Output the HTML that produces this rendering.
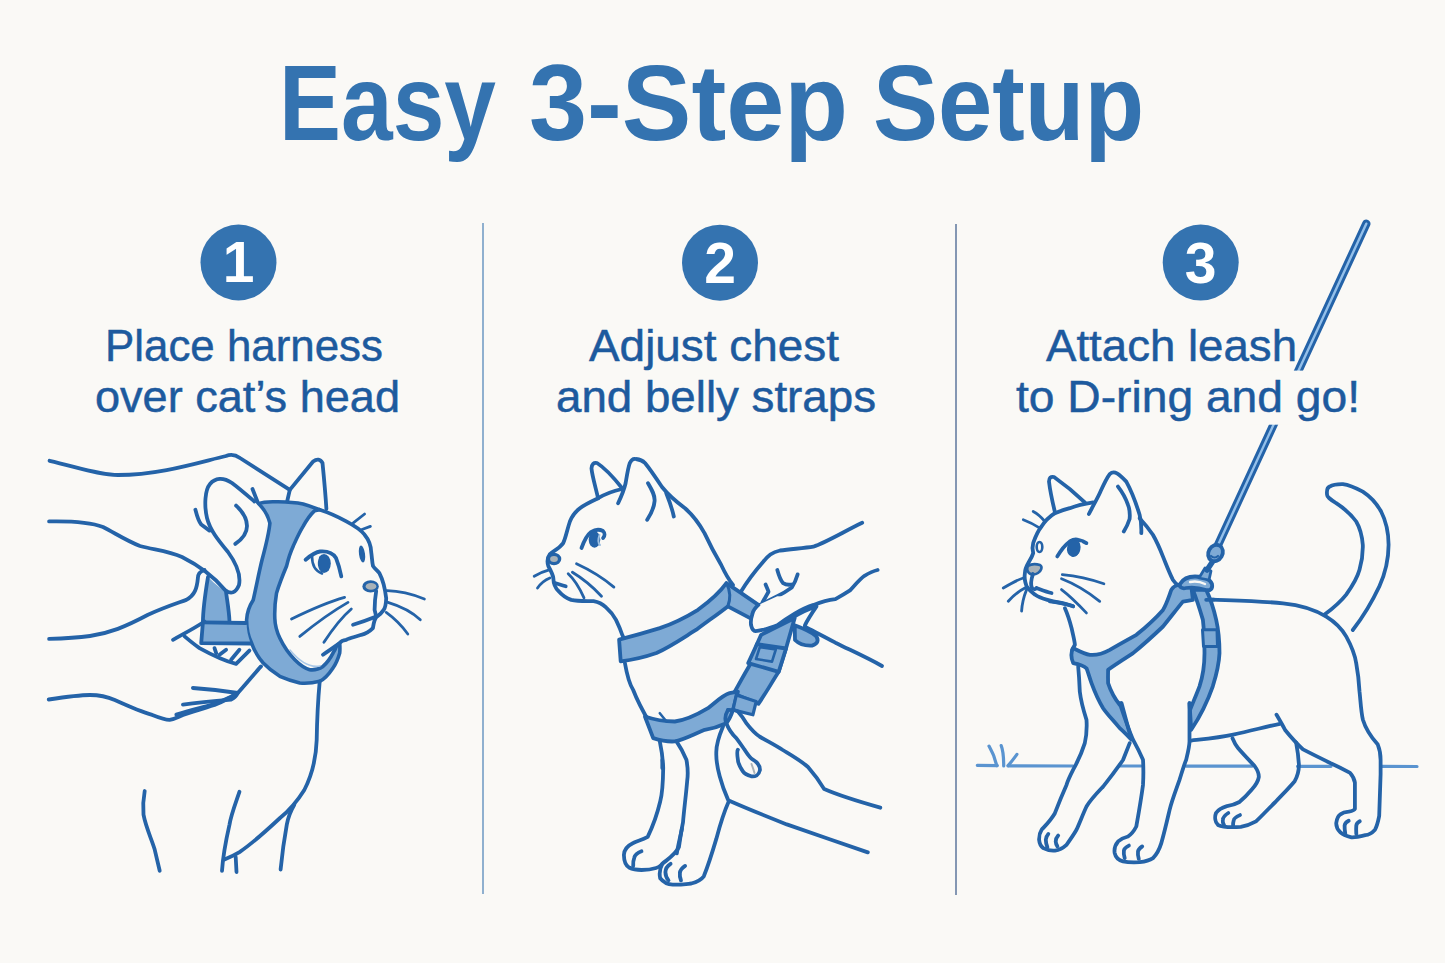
<!DOCTYPE html>
<html><head><meta charset="utf-8">
<style>
html,body{margin:0;padding:0;width:1445px;height:963px;overflow:hidden;background:#faf9f6;}
svg{position:absolute;left:0;top:0;}
</style></head>
<body>
<svg width="1445" height="963" viewBox="0 0 1445 963">
<!-- title -->
<g font-family="Liberation Sans" font-weight="bold" font-size="107" fill="#3473b0">
<text x="279" y="139.5" textLength="217" lengthAdjust="spacingAndGlyphs">Easy</text>
<text x="529" y="139.5" textLength="319" lengthAdjust="spacingAndGlyphs">3-Step</text>
<text x="873" y="139.5" textLength="271" lengthAdjust="spacingAndGlyphs">Setup</text>
</g>
<!-- dividers -->
<line x1="483" y1="223" x2="483" y2="894" stroke="#8fb0cf" stroke-width="2"/>
<line x1="956" y1="224" x2="956" y2="895" stroke="#8497b3" stroke-width="2"/>
<!-- circles -->
<g fill="#3473b0">
<circle cx="238.5" cy="262.5" r="38"/>
<circle cx="720" cy="262.7" r="38"/>
<circle cx="1200.7" cy="262.6" r="38"/>
</g>
<g font-family="Liberation Sans" font-weight="bold" font-size="57" fill="#ffffff" text-anchor="middle">
<text x="238.5" y="281.5">1</text>
<text x="720" y="282.5">2</text>
<text x="1200.7" y="282.5">3</text>
</g>
<!--P1-->
<g id="p1" fill="none" stroke="#2463a8" stroke-width="3.8" stroke-linecap="round" stroke-linejoin="round">
<!-- harness U strap fill -->
<path fill="#7eaad5" stroke-width="3.6" d="M258.7,503.7 C265,501 272,501.8 278.2,501.8 C290,502 298,503 303.1,504 C310,506 315,508 319.7,509.8 L314.7,510.6 C310,515 306,521 303.1,526.4 C299,533 296,540 293.1,546.4 C290,553 288,560 286.5,566.3 C282,577 279,585 276.5,593.2 C275,602 274.5,610 274.8,618.2 C275,626 277,632 279.8,638.1 C284,647 289,654 294.8,659.7 C299,664 304,668 309.7,669.7 C315,670.5 319,669 323,666.4 C328,662 331,657 333,653.1 C335,650 336,648 336.3,646.4 L339.7,643.1 C340,647 340,650 339.7,653.1 C338,659 336,664 333,668 C329,674 325,679 319.7,681.3 C313,683 306,683.5 299.8,683 C292,681 286,679 279.8,676.3 C273,672 268,668 263.2,663 C258,657 254,650 251.6,643.1 C248,636 246.5,628 246.6,619.8 C247,612 250,605 253.2,600 C256,588 259,572 262,560 C266,545 269,533 269.9,523.1 C268,515 263,508 258.7,503.7 Z"/>
<path d="M290,650 C300,662 310,668 320,666" stroke="#a9c8e8" stroke-width="1.5"/>
<!-- back strap + horizontal strap fill -->
<path fill="#7eaad5" stroke="none" d="M208,577 C205,595 203,610 202.9,622.3 L201.2,643.1 L250.7,643.5 C248,636 246.6,630 246.6,622.5 L229.5,621.5 C229,605 227,595 226,591.6 C218,587 212,581 208,577 Z"/>
<path d="M208,577 C205,595 203,610 202.9,622.3 L201.2,643.1 L250.7,643.5"/>
<path d="M226,591.6 C227,600 229,610 229.5,621.5"/>
<path d="M202.9,622.3 L246,623"/>
<!-- top arm -->
<path d="M49.6,460.8 C80,468 100,475 118,475 C160,475 200,462 226,456 Q233,453 240,458 L289.8,489.9"/>
<!-- far ear -->
<path d="M287.3,500.7 L289.8,489.9 L313.1,461.5 Q319,457 322.5,463 C324,478 325.5,494 326.4,509"/>
<!-- second arm & finger/ear loop -->
<path d="M49.1,521.4 C70,521 90,522 103,527 C115,533 125,540 140,546 C155,550 168,551 182,557 C200,566 215,578 225,590 Q234,597 239,585 C241,575 236,563 228,552 C218,540 210,530 207,518 C204,505 205,490 210,484 C215,478 223,477 232,483 C240,489 248,496 254.4,501.5"/>
<path d="M236.1,505.6 C242,511 247,518 247,526 C247,534 241,540 235.3,543.9"/>
<path d="M195.4,509.8 C197,516 199,522 201.2,524.5 L209.5,530.6"/>
<path d="M252.5,489 L257.7,502.3"/>
<!-- arm 3 -->
<path d="M49.1,638.9 C62,638.5 75,638 90,636 C110,633 125,627 148,614.8 C165,607 178,603 186.3,599.9 C195,595 197,588 197.9,578 C198,573 201,571 204.5,570"/>
<path d="M173,639.8 C185,633 195,628 204.5,621.5"/>
<path d="M184.6,636.4 C190,641 195,645 199.5,648.1 C212,655 225,661 236.1,663.9 L249.4,650.6"/>
<path d="M214.5,648.1 L216.2,653.1 M219.5,654.7 L226.1,649.7 M231.1,659.7 L239.4,649.7"/>
<!-- lower hand fingers -->
<path d="M192.9,688 C208,689 225,691 237.8,693 C245,685 255,673 261,666.4"/>
<path d="M182.9,704.6 C195,703 215,701 231.1,699.6 Q236,697 237.8,693"/>
<path d="M176.3,714.6 C190,710 200,708 206.2,706.3 C215,704 222,701 229.5,697.5"/>
<!-- arm 4 -->
<path d="M48.7,699.5 C65,697 80,695 89.9,695 C100,695 108,697 114.8,700 C128,706 142,712 152.2,714.9 C160,718 165,720 169.6,719.9 C175,719 178,717 183,715 C195,711 205,708 214.5,705 C222,702 230,698 235,694"/>
<!-- head outline -->
<path d="M319.7,509.8 C330,513 340,518 346.3,521.4 C355,526 361,530 364.6,534.7 C369,540 371,546 371.2,552 C372,557 372,562 373,566 C375,569 378,571 379.5,573.3 C383,580 385,588 386.2,598.2 C386,604 385,608 383.7,609.9 C381,614 378,616 376.2,617.3 C374,620 373.5,625 372.9,628.1 C369,632 365,634 361.3,634.8 C355,637 350,638 346.3,639.8 C343,640 341,641 339.7,643.1 C333,648 328,651 323,654.7"/>
<!-- far eye mark -->
<ellipse cx="362" cy="554" rx="3" ry="8.5" fill="#2463a8" stroke="none" transform="rotate(-8 362 554)"/>
<!-- eye -->
<path d="M305.6,559.7 C310,556 315,552 320,551.5 C327,551 333,553 336,558 C338,563 340,570 341.3,576.3"/>
<ellipse cx="324" cy="563.5" rx="6.8" ry="9.5" fill="#2463a8" stroke="none"/>
<path d="M318,557 C316,563 317,569 320,572" stroke="#faf9f6" stroke-width="2"/>
<path d="M312,556 C312,564 315,571 322,573.5" stroke-width="2.6"/>
<!-- nose -->
<ellipse cx="370.6" cy="586.4" rx="8.2" ry="6.2" fill="#2463a8" stroke="none"/>
<ellipse cx="371" cy="586.4" rx="5.4" ry="3.3" fill="#a9b2b8" stroke="none"/>
<path d="M376.2,591 C375,598 374.6,604 374.6,609.9 L376.2,616.5"/>
<path d="M353,624.8 C362,622 370,619 376.2,616.5"/>
<!-- whiskers -->
<g stroke-width="2.8">
<path d="M291.5,619 C310,610 328,602 344.6,597.4"/>
<path d="M299.8,636.4 C315,624 333,611 348,602.4"/>
<path d="M323.9,642.3 C332,630 342,617 351.3,609"/>
<path d="M387,590.7 C400,591 412,594 424.4,599"/>
<path d="M387.9,602.4 C400,606 412,612 420.3,619.8"/>
<path d="M386.2,612.4 C394,618 402,626 407.8,634"/>
<path d="M353,523.1 L364.6,514"/>
<path d="M361.3,529.7 L370.4,526.4"/>
</g>
<!-- neck / body -->
<path d="M319.7,681.3 C318,700 317,720 316.7,740 C316,760 312,775 304.3,790 C298,800 290,810 280,818 C265,832 250,845 239.5,852.1 C233,856 228,858 224.5,859.5"/>
<path d="M144.7,791 C143,800 143,808 143.5,814.7 C146,828 152,840 154.7,849.6 L159.7,870.8"/>
<path d="M239.5,791.7 C235,805 231,815 229.5,824.6 C226,840 223,855 222,870.8"/>
<path d="M294.3,804.7 C290,812 288,818 286.8,824.6 C284,840 282,855 280.6,869.5"/>
<path d="M235.7,857 L236.5,872"/>
</g>
<!--/P1-->
<!--P2-->
<g id="p2" fill="none" stroke="#2463a8" stroke-width="3.8" stroke-linecap="round" stroke-linejoin="round">
<!-- far ear + head -->
<path d="M598.1,498.2 C595,485 592,475 591.5,468.3 Q592,462 597,463 C605,468 614,478 622.2,488.2"/>
<path d="M598.1,498.2 C605,494 613,491 622,489"/>
<!-- near ear + back of head -->
<path d="M618.1,503.2 C622,495 624,490 625.6,483.2 C627,475 628,468 629.7,463.3 Q632,458 636,459 C640,459.5 643,461 645,463 C650,469 656,478 662,487 C670,497 678,503 685,508.2 C694,516 700,525 704.5,533.1 C710,545 716,556 721.1,564.7 C725,573 729,580 733,585"/>
<path d="M648,483.2 C652,490 655,495 654.6,501 C654,508 651,514 647.2,519.8"/>
<path d="M666.3,493.2 C669,500 672,508 673.8,516.5"/>
<!-- face outline -->
<path d="M598.1,498.2 C590,502 584,505 579.9,508.2 C575,512 572,516 569.9,521.5 C567,530 566,537 563.2,543.1 C559,549 553,551 550,554 C547,558 547,562 548.3,566 C551,571 553,575 553.3,578 C553.5,584 555,588 558.7,591.2 C562,595 566,598 571.2,599.9 C578,601.5 586,601 593.6,601.1 C599,602 603,604.5 606,607.4 C610,611 613.5,615 616,619.8 C619,626 621,631 622.2,634.8 L624.2,639"/>
<ellipse cx="554" cy="559" rx="5.6" ry="4.6" fill="#a9b2b8" stroke-width="3.4"/>
<path d="M554.9,583 C558,584 562,585 565.7,586.3"/>
<!-- eye -->
<path d="M581.5,548 C584,541 587,535 591,532 C595,529.5 600,529.5 603,531 C605,533 605,536 603.1,538.1"/>
<ellipse cx="594.5" cy="539.5" rx="5.8" ry="8.3" fill="#2463a8" stroke="none"/>
<path d="M599.5,535 C598,539 598,543 600,545" stroke-width="2" stroke="#9fc0e0"/>
<!-- whiskers -->
<g stroke-width="2.8">
<path d="M534.2,576.3 C540,573 545,571 549.9,569.7"/>
<path d="M537.5,588 C541,583 545,580 549.9,578"/>
<path d="M576.5,563.8 C590,570 603,578 613.9,587.1"/>
<path d="M572.4,572.2 C582,578 593,587 601.5,596.2"/>
<path d="M568.2,573.8 C575,580 580,589 584,597.9"/>
</g>
<!-- body outline left -->

<path d="M590,600.7"/>
<path d="M624.9,663 C627,675 630,685 633.2,690 C637,700 641,708 649.9,723.2"/>
<!-- collar strap -->
<path fill="#7eaad5" d="M619.1,639.7 C633,636 647,632 659.8,628.1 C675,623 688,616 698,609.8 C710,601 720,592 726.4,583.1 L739.4,591.8 L758.4,604.9 L752.5,619.4 L727.8,606.4 C718,614 708,621 696.4,629.7 C683,638 670,647 656.5,653 C645,657 632,660 620.7,661.3 Z"/>
<path d="M726.4,583.1 C730,590 731,598 727.8,606.4" stroke-width="3"/>
<!-- vertical belly strap -->
<path fill="#7eaad5" d="M761,635 L794.7,618 L786,648.5 L778.7,671.8 C772,682 766,693 758.4,703.8 L733.6,693.6 C739,684 745,673 751,663 L756.9,644.2 Z"/>
<path fill="#7eaad5" d="M748.2,663.1 L756.9,644.2 L786,648.5 L778.7,671.8 Z"/>
<path fill="#7eaad5" stroke-width="2.6" d="M759.8,647.1 L775.8,649.5 L772,661.6 L756,659 Z"/>
<path fill="#7eaad5" d="M794.7,625.3 C802,628 810,631 816,636 C819,640 818,644 812,645.6 C805,646 799,644 795,640 Z"/>
<!-- belly band -->
<path fill="#7eaad5" d="M644.9,716.5 C655,720 665,721.5 674.8,721.5 C688,720 700,713 708,708.2 C716,702 723,695 729.6,693.2 L737.9,691.6 L733,709.9 C731,716 729,720 726.3,723.2 C718,727 710,729 704.7,729.8 C692,735 683,740 674.8,741.4 C666,742 659,740 653.2,738.1 Z"/>
<path fill="#7eaad5" d="M736.3,694.9 L756.2,701.5 L752.9,714.8 L733,709.9 Z" stroke-width="3.2"/>
<path d="M659.8,713.2 L666.5,721.5" stroke-width="2.6"/>
<!-- upper hand -->
<path d="M740.9,591.8 C748,580 756,570 763,562 C768,556 772,552 780,550.5 C792,549 805,548 813.4,546.7 C825,543 845,531 862.2,522.8"/>
<path d="M765.6,584.5 C767,588 768,590 768.5,591.8 L762.7,602"/>
<path d="M777.3,570 C779,576 781,581 783.1,583.1 C786,585 789,585 791.8,584.5"/>
<path d="M797.6,574.4 C796,580 794,584 791.8,587.5 C787,591 782,594 777.3,596.2 L759.8,604.9"/>
<!-- thumb -->
<path fill="#faf9f6" stroke="none" d="M758.4,604.9 C755,608 753,611 752.5,613.6 C751,618 750.5,622 751.1,625.3 C752,629 753,631 755.4,631.1 C758,631 761,630 764.2,629.6 C769,628 773,627 777.3,625.3 C783,621 789,617 794.7,613.6 C801,610 807,607 813.6,604.9 L800,597 L777.3,596.2 Z"/>
<path d="M758.4,604.9 C755,608 753,611 752.5,613.6 C751,618 750.5,622 751.1,625.3 C752,629 753,631 755.4,631.1 C758,631 761,630 764.2,629.6 C769,628 773,627 777.3,625.3 C783,621 789,617 794.7,613.6 C801,610 807,607 813.6,604.9 C821,602 828,600 835.4,599.1 C841,596 846,593 850,590.4 C855,585 860,579 864.5,575.8 C869,573 873,571 877.6,570"/>
<path d="M791.8,618 C800,613 808,609 816.5,606.4 C812,613 808,619 804.9,625.3"/>
<path d="M804.9,626.7 C815,632 825,637 835.4,642.7 C850,650 866,657 882,666"/>
<!-- lower hand -->
<path d="M728,709.9 C733,710 736,710 737.9,711.5 C741,715 744,719 746.3,723.2 C750,728 754,733 759.5,736.5 C767,741 775,745 782.8,750 C791,755 800,760 808,767 C815,775 820,782 824.2,789.1 C840,796 860,802 880.3,807.7"/>
<path d="M728,709.9 C725,715 725,720 726.3,723.2 C729,730 733,735 736.3,738.1 C740,743 742,746 744.6,749.7 C748,755 750,758 752.9,759.7 C757,762 760,765 760,770 C759,775 755,777 751.2,776.3 C747,775 744,773 742.9,771.4 C740,767 738,763 737.9,759.7 C737,754 737,751 737.9,749.7"/>
<path d="M751.5,764 C753,768 754,771 754.5,773" stroke="#aab3b8" stroke-width="2"/>
<path d="M723,726.5 C719,736 716,745 716.3,753.1 C716,762 718,770 719.7,776.3 C722,785 725,793 728,799.6 L728.7,800.5 C748,809 768,817 786.8,824.4 C815,834 840,843 867.8,852.4"/>
<!-- legs -->
<path d="M659.8,741.4 C662,752 663,760 663.2,768 C663,785 662,795 660.2,801.5 C657,815 652,828 647.7,836.8 C642,840 637,841 633.2,843 C627,846 624,850 623.9,855 C624,861 625,865 629,867.5 C634,870 638,870 641.5,870 C648,870 653,869 656.1,868 C660,867 661,865 662.3,863.8"/>
<path d="M641.5,851.3 C637,853 635,855 634.3,857.6 C633,861 633,863 633.2,865.9"/>
<path d="M676.5,741.4 C681,748 684,754 686.4,759.7 C688,768 688,775 687.2,780.8 C686,795 684,810 683,822.3 C681,832 680,840 678.9,847.2 C675,855 668,859 662.3,863.8 C660,868 659,873 660.2,878.3 C664,883 668,884.5 672.7,884.6 C680,884.8 686,884 691.3,883.5 C697,882 701,880 703.8,876.3 C708,866 713,850 716.3,838.9 C720,825 724,812 728.7,801.5"/>
<path d="M682,828.5 C680,838 678,846 676.8,853.4"/>
<path d="M670.6,863.8 C667,866 665.5,869 665.4,872.1 C665.5,876 666.5,878 668.5,880.4"/>
<path d="M685.1,865.9 C682,868 680,870 679.9,873.1 C679.5,876 680,878 681,880.4"/>
<path d="M662.3,760 L662.3,768"/>
</g>
<!--/P2-->
<!--P3-->
<g id="p3" fill="none" stroke="#2463a8" stroke-width="3.8" stroke-linecap="round" stroke-linejoin="round">
<!-- ground -->
<g stroke="#5a94d0" stroke-width="3.2">
<path d="M977.3,765.3 L997.3,765.6"/>
<path d="M989,746.1 C991,750 993,754 993.8,756 C995,760 996,763 996.8,765.6"/>
<path d="M1001.2,745.6 C1003,750 1003.7,755 1003.7,766"/>
<path d="M1016.9,754.4 C1015,757 1013,760 1008.1,765.6"/>
<path d="M1008.1,765.9 L1073,766 M1120,766 L1141,766 M1186,766.1 L1252,766.2 M1297.5,766.3 L1331,766.3 M1381,766.4 L1417,766.5"/>
</g>
<!-- leash -->
<path d="M1366.3,223.7 L1218,545" stroke-width="8.4"/>
<path d="M1366.3,223.7 L1218,545" stroke="#94c0ea" stroke-width="2.4"/>
<rect x="1250" y="370.6" width="70" height="54.1" fill="#faf9f6" stroke="none"/>
<!-- far ear + head -->
<path d="M1054.8,511.5 C1052,500 1050,490 1049,481.6 Q1049,476 1054,477 C1064,484 1075,493 1084.8,502.4"/>
<path d="M1054.8,513.2 C1060,511 1065,509.5 1069.8,508.2 C1078,505 1086,503.5 1093.1,502.4"/>
<!-- near ear -->
<path d="M1088.9,514 C1093,506 1097,499 1099.7,493.2 C1103,486 1106,479 1109.7,474.1 Q1113,471 1117,473.3 C1120,475 1123,478 1126.3,481.6 C1132,492 1136,503 1139.6,514.8 C1141,520 1141.5,527 1141.3,533.1"/>
<path d="M1118,486.6 C1123,493 1126,499 1128,504.9 C1130,510 1130,515 1129.6,519 C1128,524 1126,528 1123.8,531.5"/>
<!-- back of head -->
<path d="M1139.6,518.2 C1145,524 1149,529 1152.9,534.8 C1157,542 1160,549 1162.9,556.4 C1166,564 1169,572 1172.8,579.7 C1175,583 1177,585 1179.5,586.3"/>
<!-- face -->
<path d="M1054.8,513.2 C1049,517 1045,521 1041.5,526.5 C1037,532 1035,538 1033.2,543.1 C1032,547 1032.5,550 1033.2,553.1 C1032,557 1030,560 1028.3,563 C1026,567 1025,570 1024.9,573 C1024,578 1025,582 1026.6,586.3 C1029,590 1031,592 1034.9,594.6 C1038,597 1042,598.5 1046.5,599.6 C1051,601 1056,602 1061.5,602.9 C1066,604 1070,605 1073.1,606.3"/>
<ellipse cx="1039.5" cy="547" rx="2.8" ry="5" stroke-width="2.6"/>
<path d="M1028,566 C1031,564 1035,563.5 1040,565 C1043,567 1041,571 1038,573 C1035,575 1031,575 1029,573 C1027,571 1027,568 1028,566 Z" fill="#a9b2b8" stroke-width="2.6"/>
<path d="M1033,574 C1031,580 1030.5,585 1032,588 C1034,590 1036,589 1036.6,588 M1036.6,588 C1042,590 1047,592 1051.5,593"/>
<path d="M1049.9,601.3 C1058,602 1066,604 1073.1,606.3"/>
<!-- eye -->
<path d="M1057.3,556.4 C1061,550 1065,545 1069.8,541.4 C1073,539.5 1076,539 1078.1,539.8 C1081,540.5 1084,541.5 1086.4,543.1"/>
<ellipse cx="1074" cy="548.5" rx="7" ry="8.5" fill="#2463a8" stroke="none" transform="rotate(15 1074 548.5)"/>
<path d="M1081,543 C1082,548 1081,553 1078,556" stroke="#faf9f6" stroke-width="1.6"/>
<!-- whiskers -->
<g stroke-width="2.8">
<path d="M1023.3,519.8 C1029,522 1035,525 1039.9,528.1"/>
<path d="M1033.2,511.5 C1038,514 1042,518 1044.9,521.5"/>
<path d="M1003.3,588 C1010,584 1017,580 1023.3,578"/>
<path d="M1008.3,601.3 C1013,596 1019,591 1024.9,588"/>
<path d="M1021.6,611.2 C1022,604 1024,596 1026.6,589.6"/>
<path d="M1062.3,574.7 C1076,576 1090,579 1103.9,583.8"/>
<path d="M1061.5,578.8 C1075,584 1088,592 1099.7,601.3"/>
<path d="M1061.5,589.6 C1070,596 1078,604 1086.4,612.9"/>
</g>
<!-- neck front -->
<path d="M1064.9,608.2 C1068,615 1070,622 1071.6,628.2 C1073,635 1074.5,640 1074.9,644.8 L1072,650"/>
<!-- tail -->
<path d="M1324.6,614.6 C1336,606 1342,600 1346.2,594.6 C1353,585 1357.5,577 1359.5,569.7 C1362,561 1363,552 1362.8,544.8 C1362,535 1360,528 1356.2,521.5 C1350,513 1342,507 1336.2,503.2 C1330,499 1327,497 1327.1,494.9 C1326.5,490 1327,487.5 1329.6,486.6 C1333,484.5 1338,484 1342.9,484.1 C1350,485 1356,488 1362.8,491.6 C1371,497 1377,504 1381.1,511.5 C1386,521 1388.5,533 1388.6,544.8 C1388.5,560 1385,574 1379.4,586.3 C1372,602 1363,617 1352.8,630"/>
<!-- back -->
<path d="M1211.6,599.6 C1235,600.5 1260,601 1283.1,603.3 C1300,605 1314,609 1326.3,616.6 C1335,622 1342,629 1346.3,636.6 C1352,647 1355,655 1356.2,663.2 C1358,673 1359,682 1359.5,691.4 C1360.5,700 1361,712 1362.9,719.7 C1366,730 1372,738 1377.8,744.6 C1380,750 1380.6,754 1380.6,760 L1380.6,774.3 C1380,790 1379.5,805 1379.2,815.8 C1378,822 1377,826 1375,829.7 C1372,833 1368,835 1365.3,835.2 C1360,836.5 1355,837.5 1351.5,837.3 C1346,836 1342,834 1340.4,832.4 C1337,829 1336,826 1336.3,822.7 C1337,818 1338.5,815.5 1340.4,814.4 C1343,812.5 1346,812 1348.7,811.7 C1352,811 1354.5,810 1354.9,808.9 L1354.9,782.6 C1354,777 1352,775 1350.1,772.9 C1343,769 1337,766 1330.7,763.2 C1320,758 1310,753 1303,749.4 C1296,743 1290,736 1285.1,730 C1282,724 1279,719 1276.5,714.7"/>
<path d="M1348.7,820.7 C1346,822 1344.8,823.5 1344.6,825.5 C1344.5,829 1345,831.5 1345.3,833.8"/>
<path d="M1359.8,821.3 C1357.5,822.5 1356.5,824 1356.3,825.5 C1356,829 1356.2,831.5 1356.3,833.8"/>
<!-- belly & far back leg -->
<path d="M1191.2,740.6 C1205,739 1220,737.5 1233.2,734.6 C1250,731 1265,727 1279.8,723.8"/>
<path d="M1232.5,738.3 C1234,742 1235.5,745 1238,748 C1244,755 1250,761 1254.6,766 C1257.5,770 1259,774 1258.8,777.1 C1258,782 1255,786 1251.8,789.5 C1248,794 1243,799 1239.4,802 C1235,804.5 1231,805.5 1226.9,806.1 C1222,807.5 1218,810 1216,813 C1214.5,817 1215,822 1218,825 C1222,827 1232,827.5 1240.8,826.9 C1246,826 1251,824 1256,821.3 C1262,816 1268,809 1275.4,802 C1282,795 1289,788 1294.7,781.2 C1298,775 1299,770 1298.9,764.6 C1298.5,757 1297.5,750 1296.1,742.5"/>
<path d="M1228.3,813 C1225,815 1223,817 1222.8,820 C1222.5,822 1223,824 1224.2,825.5"/>
<path d="M1240,815.1 C1236,817 1234,818.5 1233.8,820 C1233.2,822 1233,824 1233.1,825.5"/>
<!-- harness: Y strap -->
<path fill="#7eaad5" d="M1073.2,648.1 C1079,651 1084,654 1089.9,654.8 C1097,655.5 1104,653 1109.8,649.8 C1118,645 1127,640 1136.4,634.8 C1146,627 1155,619 1163,609.9 C1167,603 1169,596 1171.3,589.9 C1173,587 1175,585.5 1177.9,585 L1191.2,585 L1192.9,599.9 C1189,600.5 1186,601 1182.9,601.6 C1176,610 1170,618 1163,626.5 C1153,636 1143,645 1133.1,653.1 C1124,659 1116,664 1108.1,669.7 C1108,675 1108,680 1108.1,683.2 C1111,692 1115,699 1119.7,704.8 L1121.5,703 L1131.4,739.7 C1126,734 1123,731 1119.7,728.1 C1113,720 1107,714 1103.1,708.2 C1098,700 1094,690 1091.5,683.2 C1089,676 1088,672 1086.5,668.3 C1083,665 1078,664 1073.2,663.1 C1071,658 1071,652 1073.2,648.1 Z"/>
<!-- harness: right strap -->
<path fill="#7eaad5" d="M1192.9,589.9 L1206.2,589.9 C1211,600 1214,610 1216.2,619.9 C1218.5,630 1219.5,642 1219.5,653.1 C1219,665 1216,676 1212.8,686.3 C1208,700 1201,715 1191.2,729.8 L1189.5,703.2 L1190,710 C1194,700 1197,693 1199.5,686.3 C1203,676 1204.5,665 1204.5,653.1 C1204.5,642 1204,630 1202.9,619.9 C1200,610 1197,600 1192.9,589.9 Z"/>
<path fill="#7eaad5" stroke-width="3" d="M1202.5,629.8 L1217,629.8 L1217.5,646.5 L1203.5,646.5 Z"/>
<!-- back line from strap -->
<path d="M1206.2,599.9 C1210,599.7 1212,599.6 1214,599.6"/>
<!-- clip + ring -->
<path fill="#7eaad5" d="M1180,584 C1183,579 1188,576.5 1195,576.5 C1203,576.5 1210,579 1212,584 C1213,589 1210,591 1206,590 C1200,588 1192,587 1186,588 C1182,589 1179,587 1180,584 Z"/>
<path d="M1190,582 C1195,581 1201,582 1205,584" stroke="#faf9f6" stroke-width="2.4"/>
<path fill="#7eaad5" d="M1199,578 L1205,568 L1211,571 L1209,580 Z" stroke-width="2.8"/>
<path d="M1207,570 L1213,561" stroke-width="5.5"/>
<ellipse cx="1215.5" cy="553" rx="7" ry="8.5" fill="#7eaad5" transform="rotate(30 1215.5 553)"/>
<path d="M1211,556 C1213,558 1216,558 1218,556" stroke-width="2.2"/>
<!-- legs: far front -->
<path d="M1078.2,666.6 C1079,675 1079.5,684 1079.8,691.6 C1081,702 1084,712 1086.5,719.8 C1087,728 1086.5,736 1084.8,743.1 C1082,752 1078,761 1073.2,769.7 C1070,776 1068,780 1066.5,784.9 C1062,795 1058,805 1054.9,813.2 C1051,820 1046,825 1041.6,829.8 C1039.5,833 1039,836 1039.1,839.8 C1039.5,844 1041,846.5 1043.3,848.1 C1047,850 1051,851 1054.9,850.6 C1059,850 1063,848 1066.5,844.8 C1070,840 1073.5,835 1076.5,829.8 C1080,822 1083,814 1086.5,806.5 C1091,799 1097,793 1103.1,786.6 C1110,778 1116,770 1123,760 L1129.7,743.1"/>
<path d="M1048.3,834 C1046.5,836 1045.8,838 1045.8,839.8 C1045.8,843 1046.5,845 1047.4,847.3"/>
<path d="M1058.2,835.6 C1056.5,837.5 1055.7,839.5 1055.7,841.4 C1055.8,843.5 1056.5,845 1057.4,846.4"/>
<!-- near front leg -->
<path d="M1119.7,703.2 C1124,716 1128,728 1133,739.7 C1137,747 1140,753 1143,759.7 C1143.5,768 1143.5,776 1143,784.9 C1141,800 1138.5,814 1136.3,826.5 C1134,831 1131,834.5 1128,836.5 C1124,837.5 1121,839 1118.1,841.4 C1115,845 1114,849 1114.7,853.1 C1115.5,857 1118,860 1123,861.4 C1128,862.5 1134,862.5 1139.7,862.2 C1145,861.5 1150,860 1153,858.1 C1157,854 1159.5,849 1161.3,843.1 C1164.5,832 1167,821 1169.6,809.9 C1172,800 1176,790 1179.5,779.9 C1182,772 1184,765 1186.2,759.7 C1188,752 1189.5,746 1189.5,741.4 L1189.5,703.2"/>
<path d="M1128.9,845.6 C1126,847 1124.2,848.5 1123.9,850.6 C1123.5,853.5 1124,856 1124.7,858.1"/>
<path d="M1142.2,846.4 C1140,848 1138.3,849.5 1138,851.4 C1137.7,854 1138,856.5 1138.8,858.9"/>
</g>
<!--/P3-->
<!-- captions -->
<g font-family="Liberation Sans" font-size="45" fill="#1d5a9e" stroke="#1d5a9e" stroke-width="0.5">
<text x="105" y="360.7" textLength="278" lengthAdjust="spacingAndGlyphs">Place harness</text>
<text x="95" y="412.2" textLength="305" lengthAdjust="spacingAndGlyphs">over cat’s head</text>
<text x="589" y="360.7" textLength="250" lengthAdjust="spacingAndGlyphs">Adjust chest</text>
<text x="556" y="412.2" textLength="320" lengthAdjust="spacingAndGlyphs">and belly straps</text>
<text x="1046" y="360.7" textLength="251" lengthAdjust="spacingAndGlyphs">Attach leash</text>
<text x="1016" y="412.2" textLength="344" lengthAdjust="spacingAndGlyphs">to D-ring and go!</text>
</g>
</svg>
</body></html>
